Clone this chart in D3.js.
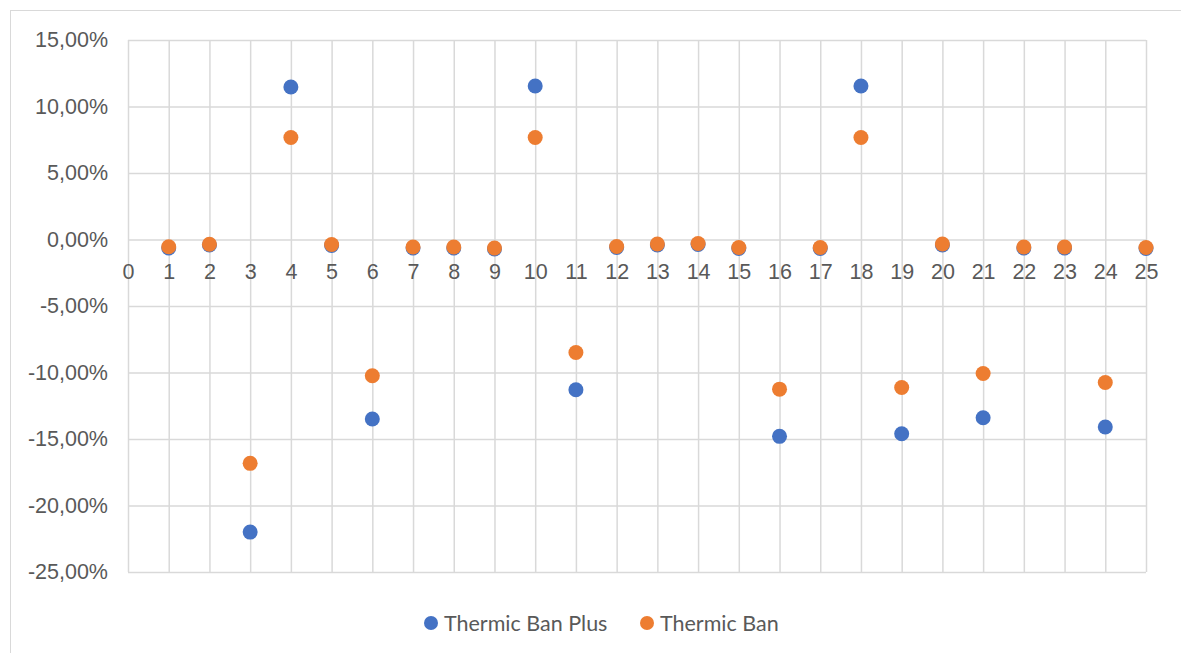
<!DOCTYPE html>
<html>
<head>
<meta charset="utf-8">
<script src="https://cdn.jsdelivr.net/npm/d3@7"></script>
<style>
  html, body { margin: 0; padding: 0; background: #fff; }
  svg { display: block; font-family: Lato, "Open Sans", sans-serif; }
</style>
</head>
<body>
<svg id="chart" width="1181" height="653"></svg>
<script>
// Day index along the x axis
const days = d3.range(1, 26);
// Percentage change per day
const thermicBanPlus = [-0.64, -0.41, -22.0, 11.47, -0.45, -13.5, -0.64, -0.64, -0.71, 11.54,
  -11.3, -0.6, -0.41, -0.38, -0.68, -14.8, -0.68, 11.54, -14.6, -0.41,
  -13.4, -0.64, -0.64, -14.1, -0.68];
const thermicBan = [-0.54, -0.36, -16.83, 7.67, -0.38, -10.24, -0.56, -0.56, -0.64, 7.67,
  -8.5, -0.53, -0.34, -0.3, -0.6, -11.25, -0.6, 7.67, -11.13, -0.34,
  -10.07, -0.56, -0.56, -10.75, -0.6];
const seriesNames = ["Thermic Ban Plus", "Thermic Ban"];
const seriesColors = ["#4472c4", "#ed7d31"];
const xTicks = d3.range(0, 26);
const yTicks = [15, 10, 5, 0, -5, -10, -15, -20, -25];

const svg = d3.select("#chart");
const W = 1181, H = 653;
const fontSize = "21.5px";

// chart frame
svg.append("rect")
  .attr("x", 10.5).attr("y", 10.5)
  .attr("width", W + 20).attr("height", H + 20)
  .attr("fill", "#fff").attr("stroke", "#d9d9d9").attr("stroke-width", 1);

const x = d3.scaleLinear().domain([0, 25]).range([128, 1146]);
const y = d3.scaleLinear().domain([-25, 15]).range([572, 40]);

// percent with comma decimal and plain hyphen for negatives
const fmt = v => (v < 0 ? "-" : "") + Math.abs(v).toFixed(2).replace(".", ",") + "%";

// vertical gridlines
svg.append("g")
  .attr("transform", `translate(0,${y(-25)})`)
  .call(d3.axisBottom(x).tickValues(xTicks).tickSize(-(y(-25) - y(15))).tickFormat(""))
  .call(g => g.select(".domain").remove())
  .call(g => g.selectAll("line").attr("stroke", "#d9d9d9").attr("stroke-width", 1.5));

// horizontal gridlines
svg.append("g")
  .attr("transform", `translate(${x(0)},0)`)
  .call(d3.axisLeft(y).tickValues(yTicks).tickSize(-(x(25) - x(0))).tickFormat(""))
  .call(g => g.select(".domain").remove())
  .call(g => g.selectAll("line").attr("stroke", "#d9d9d9").attr("stroke-width", 1.5));

// y tick labels
svg.append("g")
  .attr("transform", `translate(${x(0)},0)`)
  .call(d3.axisLeft(y).tickValues(yTicks).tickSize(0).tickPadding(20).tickFormat(fmt))
  .call(g => g.select(".domain").remove())
  .call(g => g.selectAll("text").attr("fill", "#595959").style("font-size", fontSize));

// x tick labels along the zero line
svg.append("g")
  .attr("transform", `translate(0,${y(0)})`)
  .call(d3.axisBottom(x).tickValues(xTicks).tickSize(0).tickPadding(32).tickFormat(d3.format("d")))
  .call(g => g.select(".domain").remove())
  .call(g => g.selectAll("text").attr("fill", "#595959").style("font-size", fontSize)
    .attr("dy", "0.35em"));

// markers
const series = [thermicBanPlus, thermicBan];
series.forEach((vals, i) => {
  svg.append("g").selectAll("circle")
    .data(vals)
    .join("circle")
    .attr("cx", (d, j) => x(days[j]))
    .attr("cy", d => y(d))
    .attr("r", 7.5)
    .attr("fill", seriesColors[i]);
});

// legend
const legendPos = [431, 647];
seriesNames.forEach((name, i) => {
  const g = svg.append("g").attr("transform", `translate(${legendPos[i]},623)`);
  g.append("circle").attr("r", 7).attr("fill", seriesColors[i]);
  g.append("text").attr("x", 13).attr("dy", "0.35em")
    .attr("fill", "#595959").style("font-size", fontSize).text(name);
});
</script>
</body>
</html>
